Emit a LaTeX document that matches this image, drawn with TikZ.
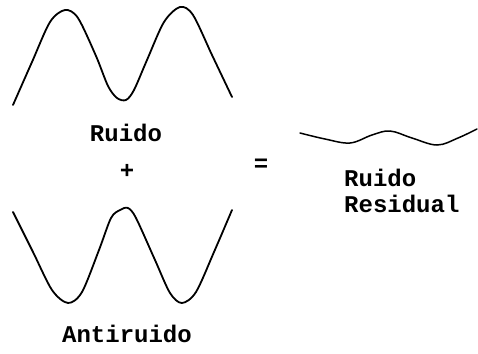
\documentclass[tikz,border=0pt]{standalone}
\usepackage{fontspec}
\setmonofont{Liberation Mono}
\begin{document}
\begin{tikzpicture}[x=1pt,y=-1pt,
  wave/.style={line width=1.8pt, line join=round, line cap=round},
  lbl/.style={font=\ttfamily\bfseries\fontsize{24}{26}\selectfont, inner sep=0pt}]
\useasboundingbox (0,0) rectangle (478,353);
% top wave (Ruido)
\draw[wave] plot[smooth, tension=0.5] coordinates {(13,105) (32,62) (50,22) (65,10) (78,18) (96,56) (108,86) (117,98) (126,100) (134,90) (147,60) (164,22) (180,7) (193,15) (212,55) (232,97)};
% bottom wave (Antiruido)
\draw[wave] plot[smooth, tension=0.5] coordinates {(13,212) (33,252) (52,290) (68,303) (82,292) (99,250) (111,218) (120,210) (128,208) (136,218) (155,260) (170,293) (182,303) (196,292) (214,252) (232,210)};
% residual wave
\draw[line width=1.5pt, line cap=round] plot[smooth, tension=0.6] coordinates {(300,133) (325,139) (350,143) (372,135) (390,131) (412,138) (437,145) (458,138) (477,129)};
\node[lbl] (ruido) at (126,133) {Ruido};
\node[lbl] (plus) at (127,171) {+};
\node[lbl] (eq) at (261,165) {=};
\node[lbl, anchor=west, align=left] (resid) at (344,191) {Ruido\\Residual};
\node[lbl] (anti) at (127,334) {Antiruido};
\end{tikzpicture}
\end{document}
